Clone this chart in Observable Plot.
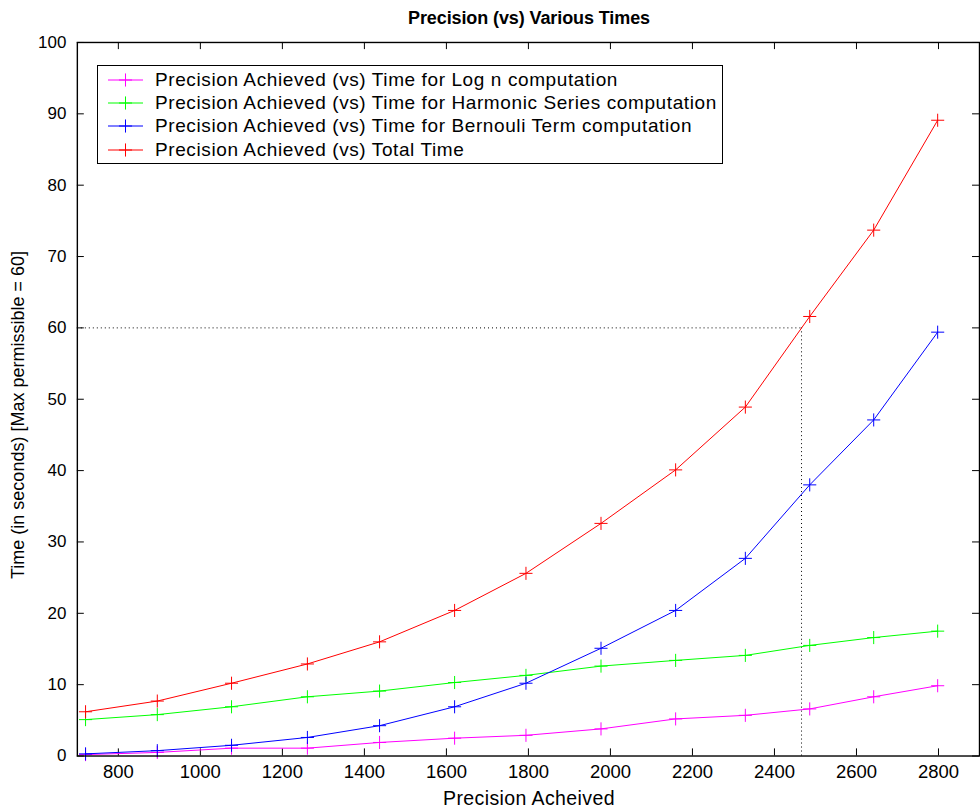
<!DOCTYPE html>
<html>
<head>
<meta charset="utf-8">
<script src="https://cdn.jsdelivr.net/npm/d3@7"></script>
<script src="https://cdn.jsdelivr.net/npm/@observablehq/plot@0.6"></script>
<style>
  html, body { margin: 0; padding: 0; background: #fff; overflow: hidden; }
  #wrap { position: relative; width: 980px; height: 809px; font-family: "Liberation Sans", Arial, Helvetica, sans-serif; color: #000; }
  #title { height: 30px; margin-left: 77px; width: 904px; text-align: center; font-weight: bold; font-size: 18px; line-height: 36px; letter-spacing: -0.1px; }
  #chart svg { display: block; }
  #xlabel { position: absolute; left: 77px; width: 904px; top: 787px; text-align: center; font-size: 19.5px; line-height: 22px; letter-spacing: 0.4px; }
  #ylabel { position: absolute; left: 18px; top: 415px; transform: translate(-50%, -50%) rotate(-90deg); white-space: nowrap; font-size: 18px; line-height: 20px; letter-spacing: 0px; }
  #legend { position: absolute; left: 97px; top: 65px; width: 624px; height: 95px; border: 1.3px solid #000; background: #fff; padding-top: 2px; box-sizing: content-box; }
  .row { height: 23.3px; display: flex; align-items: center; font-size: 19px; letter-spacing: 0.6px; white-space: nowrap; }
  .row svg { margin-left: 10px; margin-right: 12px; flex: none; }
</style>
</head>
<body>
<div id="wrap">
  <div id="title">Precision (vs) Various Times</div>
  <div id="chart"></div>
  <div id="xlabel">Precision Acheived</div>
  <div id="ylabel">Time (in seconds) [Max permissible = 60]</div>
  <div id="legend"></div>
</div>
<script>
// Precision reached at each run, and the time (s) spent in each stage
const precision     = [720, 895, 1076, 1261, 1437, 1620, 1794, 1977, 2159, 2329, 2486, 2642, 2798];
const logTime       = [0.2, 0.5, 1.1, 1.1, 1.9, 2.5, 2.9, 3.8, 5.2, 5.7, 6.6, 8.3, 9.85];
const harmonicTime  = [5.1, 5.8, 6.9, 8.3, 9.1, 10.3, 11.3, 12.6, 13.4, 14.1, 15.5, 16.6, 17.5];
const bernoulliTime = [0.3, 0.75, 1.5, 2.6, 4.25, 6.9, 10.2, 15.1, 20.4, 27.7, 38.0, 47.1, 59.4];
const totalTime     = [6.2, 7.7, 10.2, 12.9, 16.0, 20.4, 25.6, 32.6, 40.1, 48.9, 61.6, 73.7, 89.1];

const seriesNames = [
  "Precision Achieved (vs) Time for Log n computation",
  "Precision Achieved (vs) Time for Harmonic Series computation",
  "Precision Achieved (vs) Time for Bernouli Term computation",
  "Precision Achieved (vs) Total Time"
];
const seriesColors = ["#ff00ff", "#00ff00", "#0000ff", "#ff0000"];
const seriesValues = [logTime, harmonicTime, bernoulliTime, totalTime];

// Time limit and the precision at which the total time reaches it
const maxPermissible = 60;
const precisionAtLimit = 2466;

const xTicks = [800, 1000, 1200, 1400, 1600, 1800, 2000, 2200, 2400, 2600, 2800];
const yTicks = [0, 10, 20, 30, 40, 50, 60, 70, 80, 90, 100];
const xDomain = [700, 2900];
const yDomain = [0, 100];

const series = seriesValues.map((vals, i) =>
  precision.map((p, j) => ({x: p, y: vals[j], name: seriesNames[i], color: seriesColors[i]}))
);

const tickLenX = 17;   // inward tick length in x units
const tickLenY = 1;    // inward tick length in y units
const plusR = 4.3;     // "+" marker radius

const marks = [
  Plot.axisX({ticks: xTicks, tickFormat: d3.format("d"), tickSize: 0, tickPadding: 9, fontSize: 18.5, label: null}),
  Plot.axisY({ticks: yTicks, tickFormat: d3.format("d"), tickSize: 0, tickPadding: 11, fontSize: 17, label: null}),
  // inward tick marks on all four sides
  Plot.ruleX(xTicks, {y1: yDomain[0], y2: yDomain[0] + tickLenY, stroke: "#000"}),
  Plot.ruleX(xTicks, {y1: yDomain[1] - tickLenY, y2: yDomain[1], stroke: "#000"}),
  Plot.ruleY(yTicks, {x1: xDomain[0], x2: xDomain[0] + tickLenX, stroke: "#000"}),
  Plot.ruleY(yTicks, {x1: xDomain[1] - tickLenX, x2: xDomain[1], stroke: "#000"}),
  // limit guides
  Plot.ruleY([maxPermissible], {x1: xDomain[0], x2: precisionAtLimit, stroke: "#000", strokeDasharray: "1,3"}),
  Plot.ruleX([precisionAtLimit], {y1: 0, y2: maxPermissible, stroke: "#000", strokeDasharray: "1,3"})
];
for (const s of series) {
  marks.push(Plot.line(s, {x: "x", y: "y", stroke: s[0].color, strokeWidth: 1}));
  marks.push(Plot.dot(s, {x: "x", y: "y", symbol: "plus", r: plusR, stroke: s[0].color, strokeWidth: 1}));
}
marks.push(Plot.frame({stroke: "#000", strokeWidth: 1.4}));

const chart = Plot.plot({
  width: 982,
  height: 779,
  marginLeft: 77,
  marginRight: 1,
  marginTop: 12,
  marginBottom: 52,
  style: {fontFamily: "'Liberation Sans', Arial, Helvetica, sans-serif", fontSize: "17px", color: "#000", background: "#fff", overflow: "visible"},
  x: {domain: xDomain},
  y: {domain: yDomain},
  marks
});
document.getElementById("chart").appendChild(chart);

// Legend box with line + marker samples
const legend = d3.select("#legend");
seriesNames.forEach((name, i) => {
  const row = legend.append("div").attr("class", "row");
  const sw = row.append("svg").attr("width", 35).attr("height", 22);
  sw.append("line").attr("x1", 0).attr("x2", 35).attr("y1", 11).attr("y2", 11)
    .attr("stroke", seriesColors[i]).attr("stroke-width", 1);
  sw.append("path").attr("d", d3.symbol(d3.symbolPlus, Math.PI * plusR * plusR)())
    .attr("transform", "translate(17.5,11)").attr("fill", "none")
    .attr("stroke", seriesColors[i]).attr("stroke-width", 1);
  row.append("span").text(name);
});
</script>
</body>
</html>
